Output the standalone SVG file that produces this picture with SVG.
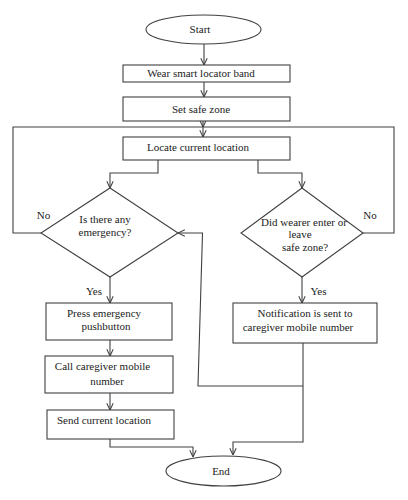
<svg xmlns="http://www.w3.org/2000/svg" width="408" height="500" viewBox="0 0 408 500">
<defs>
<style>
.n{fill:#fff;stroke:#404040;stroke-width:1.1}
.c path,.c line,.c polyline{fill:none;stroke:#404040;stroke-width:1.1}
text{font-family:"Liberation Serif","Times New Roman",serif;font-size:11px;fill:#222;text-anchor:middle}
</style>
<marker id="ah" viewBox="0 0 10 10" refX="9.5" refY="5" markerWidth="8" markerHeight="8" markerUnits="userSpaceOnUse" orient="auto">
<path d="M1,1 L9.5,5 L1,9" fill="none" stroke="#404040" stroke-width="1.3"/>
</marker>
</defs>
<rect width="408" height="500" fill="#fff"/>
<g class="c" id="connectors">
<line x1="204" y1="44" x2="204" y2="65" marker-end="url(#ah)"/>
<line x1="204" y1="82" x2="204" y2="97" marker-end="url(#ah)"/>
<line x1="203" y1="121" x2="203" y2="127" marker-end="url(#ah)"/>
<line x1="203" y1="127" x2="203" y2="137" marker-end="url(#ah)"/>
<polyline points="41,233 13,233 13,127 394,127 394,233 363,233"/>
<polyline points="158,160 158,173 110,173 110,188" marker-end="url(#ah)"/>
<polyline points="258,160 258,173 302,173 302,188" marker-end="url(#ah)"/>
<line x1="110" y1="277" x2="110" y2="303" marker-end="url(#ah)"/>
<line x1="302" y1="277" x2="302" y2="303" marker-end="url(#ah)"/>
<line x1="110" y1="340" x2="110" y2="356" marker-end="url(#ah)"/>
<line x1="110" y1="393" x2="110" y2="410" marker-end="url(#ah)"/>
<polyline points="110,439 110,447 193,447 193,457" marker-end="url(#ah)"/>
<polyline points="303,343 303,442 233,442 233,455" marker-end="url(#ah)"/>
<polyline points="303,386 198,386 202.5,233 178,233" marker-end="url(#ah)"/>
</g>
<g id="start"><ellipse class="n" cx="203.5" cy="29.5" rx="57.5" ry="14.5"/><text x="200" y="33">Start</text></g>
<g id="wear"><rect class="n" x="123" y="65" width="167" height="17"/><text x="201" y="77">Wear smart locator band</text></g>
<g id="setzone"><rect class="n" x="123" y="97" width="167" height="24"/><text x="201" y="113">Set safe zone</text></g>
<g id="locate"><rect class="n" x="123" y="137" width="167" height="23"/><text x="198" y="151">Locate current location</text></g>
<g id="emergency"><polygon class="n" points="110,188 178,233 110,277 41,233"/><text x="105" y="223">Is there any</text><text x="105" y="236">emergency?</text></g>
<g id="safezone"><polygon class="n" points="302,188 363,233 302,277 241,233"/><text x="304" y="226">Did wearer enter or</text><text x="300" y="238">leave</text><text x="305" y="251">safe zone?</text></g>
<g id="labels"><text x="43.5" y="219">No</text><text x="370" y="219">No</text><text x="94" y="295">Yes</text><text x="318.5" y="295">Yes</text></g>
<g id="press"><rect class="n" x="46" y="303" width="126" height="37"/><text x="104" y="317">Press emergency</text><text x="106" y="330">pushbutton</text></g>
<g id="notify"><rect class="n" x="233" y="303" width="144" height="40"/><text x="305" y="317">Notification is sent to</text><text x="298" y="331">caregiver mobile number</text></g>
<g id="call"><rect class="n" x="45" y="356" width="128" height="37"/><text x="102.5" y="370">Call caregiver mobile</text><text x="107" y="385">number</text></g>
<g id="send"><rect class="n" x="47" y="410" width="127" height="29"/><text x="104" y="424">Send current location</text></g>
<g id="end"><ellipse class="n" cx="223.5" cy="471" rx="57.5" ry="15"/><text x="221" y="475">End</text></g>
</svg>
